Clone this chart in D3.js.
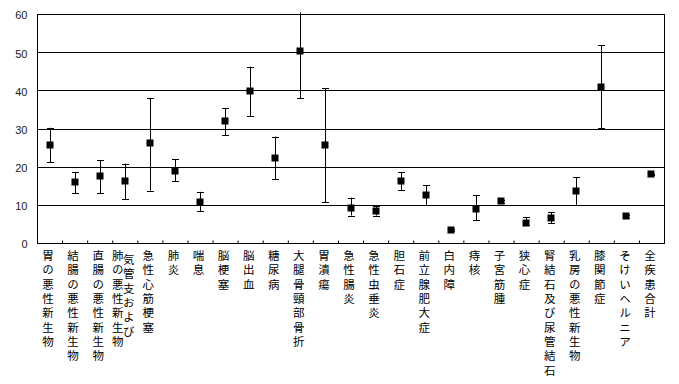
<!DOCTYPE html>
<html>
<head>
<meta charset="utf-8">
<script src="https://cdn.jsdelivr.net/npm/d3@7"></script>
<style>
  body { margin: 0; background: #fff; }
  svg { display: block; }
</style>
</head>
<body>
<div id="chart"></div>
<script>
// 疾患名 (縦書き、\n で列を分ける)
var categories = ['胃の悪性新生物', '結腸の悪性新生物', '直腸の悪性新生物', '気管支および\n肺の悪性新生物',
    '急性心筋梗塞', '肺炎', '喘息', '脳梗塞', '脳出血', '糖尿病', '大腿骨頸部骨折', '胃潰瘍',
    '急性腸炎', '急性虫垂炎', '胆石症', '前立腺肥大症', '白内障', '痔核', '子宮筋腫', '狭心症',
    '腎結石及び尿管結石', '乳房の悪性新生物', '膝関節症', 'そけいヘルニア', '全疾患合計'];
var means = [25.6, 15.9, 17.5, 16.2, 26.1, 18.9, 10.8, 31.9, 39.7, 22.3, 50.4, 25.6,
    9.3, 8.4, 16.2, 12.6, 3.4, 9.0, 10.9, 5.3, 6.5, 13.5, 40.8, 7.0, 18.0];
var upper = [30.2, 18.5, 21.7, 20.8, 38.0, 21.9, 13.4, 35.3, 46.2, 27.9, 60.4, 40.5,
    11.9, 9.6, 18.5, 15.1, 3.6, 12.6, 11.2, 6.8, 8.1, 17.3, 51.8, 7.4, 18.2];
var lower = [21.2, 13.0, 13.0, 11.5, 13.7, 16.2, 8.4, 28.2, 33.3, 16.8, 38.0, 10.7,
    7.2, 7.2, 13.8, 10.0, 3.2, 5.9, 10.6, 4.8, 5.2, 10.0, 30.1, 6.6, 17.8];
var yTicks = [0, 10, 20, 30, 40, 50, 60];

var svgWidth = 679, svgHeight = 384;
var plotLeft = 37, plotRight = 664, plotTop = 14, plotBottom = 243;

var svg = d3.select('#chart').append('svg')
    .attr('width', svgWidth)
    .attr('height', svgHeight);

var x = d3.scaleBand().domain(categories).range([plotLeft, plotRight]);
var y = d3.scaleLinear().domain([0, 60]).range([plotBottom, plotTop]);

// 目盛線
svg.append('g')
    .selectAll('line')
    .data(yTicks.slice(1, -1))
    .enter().append('line')
    .attr('x1', plotLeft).attr('x2', plotRight)
    .attr('y1', d => Math.round(y(d)) + 0.5)
    .attr('y2', d => Math.round(y(d)) + 0.5)
    .attr('stroke', '#000').attr('stroke-width', 1);

// 枠
svg.append('rect')
    .attr('x', plotLeft + 0.5).attr('y', plotTop + 0.5)
    .attr('width', plotRight - plotLeft).attr('height', plotBottom - plotTop)
    .attr('fill', 'none').attr('stroke', '#000');

// y軸
var yAxis = d3.axisLeft(y).tickValues(yTicks).tickSize(0).tickPadding(10);
var gy = svg.append('g')
    .attr('transform', 'translate(' + (plotLeft + 0.5) + ',0)')
    .call(yAxis);
gy.select('.domain').remove();
gy.selectAll('text')
    .attr('font-family', 'Liberation Sans, Arial, sans-serif')
    .attr('font-size', 11)
    .attr('fill', '#222')
    .attr('dy', '0.45em');

// x軸の目盛 (内向き)
var idx = d3.scaleLinear().domain([0, categories.length]).range([plotLeft, plotRight]);
var xAxis = d3.axisBottom(idx).tickValues(d3.range(1, categories.length)).tickSizeInner(-3).tickSizeOuter(0).tickFormat('');
var gx = svg.append('g')
    .attr('transform', 'translate(0,' + (plotBottom + 0.5) + ')')
    .call(xAxis);
gx.select('.domain').remove();

// エラーバー (データは添字)
var cx = function(i) { return Math.round(x(categories[i]) + x.bandwidth() / 2) + 0.5; };
var bars = svg.append('g').selectAll('g')
    .data(d3.range(categories.length))
    .enter().append('g');

bars.append('line')
    .attr('x1', cx).attr('x2', cx)
    .attr('y1', i => y(upper[i]))
    .attr('y2', i => y(lower[i]))
    .attr('stroke', '#000');
bars.filter(i => upper[i] <= 60).append('line')
    .attr('x1', i => cx(i) - 3.5).attr('x2', i => cx(i) + 3.5)
    .attr('y1', i => Math.round(y(upper[i])) + 0.5)
    .attr('y2', i => Math.round(y(upper[i])) + 0.5)
    .attr('stroke', '#000');
bars.append('line')
    .attr('x1', i => cx(i) - 3.5).attr('x2', i => cx(i) + 3.5)
    .attr('y1', i => Math.round(y(lower[i])) + 0.5)
    .attr('y2', i => Math.round(y(lower[i])) + 0.5)
    .attr('stroke', '#000');

// マーカー
bars.append('rect')
    .attr('x', i => cx(i) - 4)
    .attr('y', i => Math.round(y(means[i])) - 3.5)
    .attr('width', 7).attr('height', 7)
    .attr('fill', '#000');

// 縦書きラベル
var fontSize = 11.5, step = 14.3, colGap = 11;
categories.forEach(function(name) {
    var cols = name.split('\n');
    var c = x(name) + x.bandwidth() / 2 - 1.5;
    cols.forEach(function(col, k) {
        // 1列目が右側
        var colX = c + ((cols.length - 1) / 2 - k) * colGap;
        var y0 = 250 + (cols.length > 1 && k == 0 ? 4 : 0);
        svg.append('text')
            .attr('x', colX)
            .attr('y', y0)
            .style('writing-mode', 'vertical-rl')
            .style('letter-spacing', (step - fontSize) + 'px')
            .attr('font-family', 'Noto Sans CJK JP')
            .attr('font-size', fontSize)
            .attr('fill', '#000')
            .text(col);
    });
});
</script>
</body>
</html>
